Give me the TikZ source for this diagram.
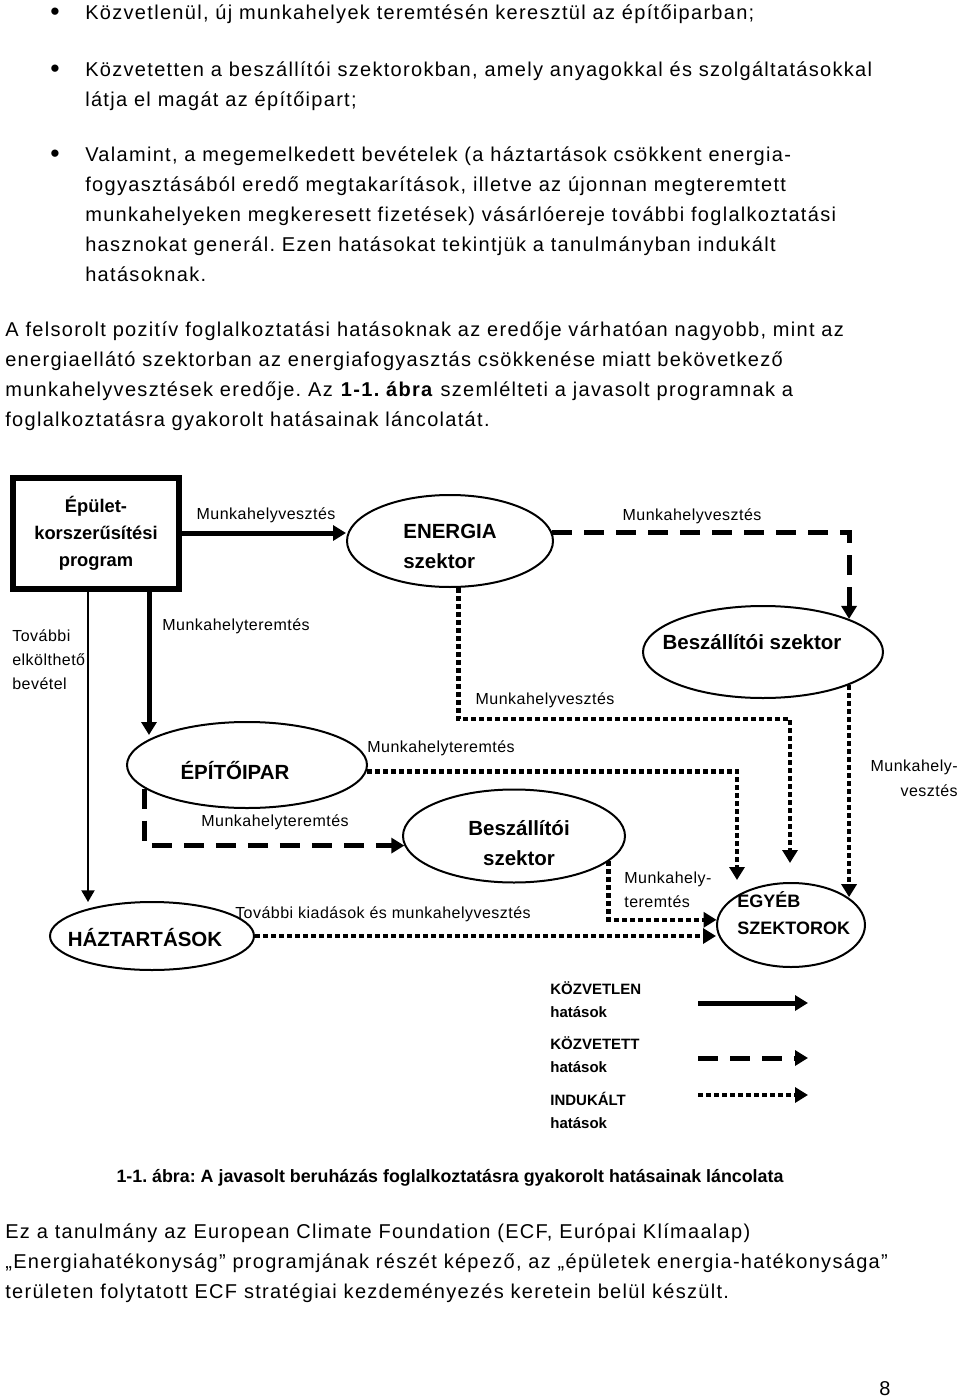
\documentclass[tikz,border=0pt]{standalone}
\usepackage{fontspec}
\setmainfont{Liberation Sans}
\newfontfamily\bodyfont[LetterSpace=6.5]{Liberation Sans}
\newfontfamily\labelfont[LetterSpace=3]{Liberation Sans}
\usetikzlibrary{arrows.meta, positioning, shapes.geometric}
\frenchspacing

\begin{document}
\begin{tikzpicture}[
    x=0.6pt, y=-0.6pt,
    direct/.style={
        line width=3pt,
        -{Triangle[length=7.8pt, width=9pt]},
    },
    indirect/.style={
        line width=3pt,
        dash pattern=on 12pt off 7.2pt,
        -{Triangle[length=7.8pt, width=9pt]},
    },
    induced/.style={
        line width=2.7pt,
        dash pattern=on 3pt off 1.8pt,
        -{Triangle[length=7.8pt, width=9pt]},
    },
    thinflow/.style={
        line width=1.2pt,
        -{Triangle[length=7pt, width=7.8pt]},
    },
    progbox/.style={
        rectangle,
        draw,
        line width=3.6pt,
        minimum width=99.6pt,
        minimum height=66.6pt,
        inner sep=0pt,
        align=center,
        font=\bfseries\fontsize{11}{16.2}\selectfont,
    },
    sectorshape/.style={
        ellipse,
        draw,
        line width=1.2pt,
        inner sep=0pt,
    },
    sectorname/.style={
        inner sep=0pt,
        align=center,
        font=\bfseries\fontsize{12.3}{18}\selectfont,
    },
    flowlabel/.style={
        inner sep=0pt,
        align=left,
        font=\labelfont\fontsize{9.6}{14.4}\selectfont,
    },
    keytext/.style={
        inner sep=0pt,
        align=left,
        anchor=west,
        font=\bfseries\fontsize{9}{13.8}\selectfont,
    },
    bodytext/.style={
        inner sep=0pt,
        align=left,
        anchor=north west,
        font=\bodyfont\fontsize{12}{18}\selectfont,
    },
    dotmark/.style={
        inner sep=0pt,
        font=\fontsize{16}{16}\selectfont,
    }
]
    \path[fill=white] (0,0) rectangle (960,1399);

    % Text above the figure
    \node[dotmark] (dot1) at (55,14) {\textbullet};
    \node[bodytext] (item1) at (85,4) {Közvetlenül, új munkahelyek teremtésén keresztül az építőiparban;};
    \node[dotmark] (dot2) at (55,71) {\textbullet};
    \node[bodytext] (item2) at (85,61) {Közvetetten a beszállítói szektorokban, amely anyagokkal és szolgáltatásokkal\\látja el magát az építőipart;};
    \node[dotmark] (dot3) at (55,156) {\textbullet};
    \node[bodytext] (item3) at (85,146) {Valamint, a megemelkedett bevételek (a háztartások csökkent energia-\\fogyasztásából eredő megtakarítások, illetve az újonnan megteremtett\\munkahelyeken megkeresett fizetések) vásárlóereje további foglalkoztatási\\hasznokat generál. Ezen hatásokat tekintjük a tanulmányban indukált\\hatásoknak.};
    \node[bodytext] (intro) at (5,321) {A felsorolt pozitív foglalkoztatási hatásoknak az eredője várhatóan nagyobb, mint az\\energiaellátó szektorban az energiafogyasztás csökkenése miatt bekövetkező\\munkahelyvesztések eredője. Az \textbf{1-1. ábra} szemlélteti a javasolt programnak a\\foglalkoztatásra gyakorolt hatásainak láncolatát.};

    % Sectors
    \node[progbox] (program) at (96,533) {Épület-\\korszerűsítési\\program};
    \node[sectorshape, minimum width=123.6pt, minimum height=55.2pt] (energia) at (450,541) {};
    \node[sectorname, anchor=west, align=left] (energia-t) at (403,546) {ENERGIA\\szektor};
    \node[sectorshape, minimum width=144pt, minimum height=55.2pt] (beszall1) at (763,652) {};
    \node[sectorname] (beszall1-t) at (752,642) {Beszállítói szektor};
    \node[sectorshape, minimum width=144pt, minimum height=51.6pt] (epitoipar) at (247,765) {};
    \node[sectorname] (epitoipar-t) at (235,771) {ÉPÍTŐIPAR};
    \node[sectorshape, minimum width=133.2pt, minimum height=55.8pt] (beszall2) at (514,836) {};
    \node[sectorname] (beszall2-t) at (519,843) {Beszállítói\\szektor};
    \node[sectorshape, minimum width=122.4pt, minimum height=40.8pt] (haztartas) at (152,936) {};
    \node[sectorname] (haztartas-t) at (145,938) {HÁZTARTÁSOK};
    \node[sectorshape, minimum width=88.8pt, minimum height=50.4pt] (egyeb) at (791,925) {};
    \node[sectorname, anchor=west, align=left, font=\bfseries\fontsize{10.8}{16.2}\selectfont] (egyeb-t) at (737,913) {EGYÉB\\SZEKTOROK};

    % Free arrow ends
    \coordinate (tipE) at (149,735);
    \coordinate (tipH) at (88,902);
    \coordinate (tipB) at (737,880);
    \coordinate (tipC) at (790,863);

    % Effects
    \draw[direct] (program.east) -- (program.east -| energia.west);
    \draw[direct] (program.south -| tipE) -- (tipE);
    \draw[thinflow] (program.south -| tipH) -- (tipH);
    \draw[indirect] (energia.5) -| (beszall1.21);
    \draw[indirect] (epitoipar.193) |- (beszall2.185);
    \draw[induced] (energia.-80) -- ++(0,131) -| (tipC);
    \draw[induced] (beszall1.-21) -- (beszall1.-21 |- egyeb.26);
    \draw[induced] (epitoipar.-3) -| (tipB);
    \draw[induced] (beszall2.-15) |- (egyeb.176);
    \draw[induced] (haztartas.east) -- (haztartas.east -| egyeb.west);

    % Effect labels
    \node[flowlabel] (vesz1) at (266,515) {Munkahelyvesztés};
    \node[flowlabel] (vesz2) at (692,516) {Munkahelyvesztés};
    \node[flowlabel] (vesz3) at (545,700) {Munkahelyvesztés};
    \node[flowlabel, anchor=east, align=right, font=\labelfont\fontsize{9.6}{15}\selectfont] (vesz4) at (958,778) {Munkahely-\\vesztés};
    \node[flowlabel] (ter1) at (236,626) {Munkahelyteremtés};
    \node[flowlabel] (ter2) at (441,748) {Munkahelyteremtés};
    \node[flowlabel] (ter3) at (275,822) {Munkahelyteremtés};
    \node[flowlabel, anchor=west] (ter4) at (624,890) {Munkahely-\\teremtés};
    \node[flowlabel] (kiad) at (383,914) {További kiadások és munkahelyvesztés};
    \node[flowlabel, anchor=west] (bevetel) at (12,660) {További\\elkölthető\\bevétel};

    % Key
    \node[keytext] (key1) at (550,1000) {KÖZVETLEN\\hatások};
    \node[keytext] (key2) at (550,1055) {KÖZVETETT\\hatások};
    \node[keytext] (key3) at (550,1110) {INDUKÁLT\\hatások};
    \coordinate (key1a) at (698,1003);
    \coordinate (key1b) at (808,1003);
    \coordinate (key2a) at (698,1058);
    \coordinate (key2b) at (808,1058);
    \coordinate (key3a) at (698,1095);
    \coordinate (key3b) at (808,1095);
    \draw[direct] (key1a) -- (key1b);
    \draw[indirect] (key2a) -- (key2b);
    \draw[induced] (key3a) -- (key3b);

    % Caption and closing text
    \node[inner sep=0pt, font=\bfseries\fontsize{10.7}{12}\selectfont] (caption) at (450,1178) {1-1. ábra: A javasolt beruházás foglalkoztatásra gyakorolt hatásainak láncolata};
    \node[bodytext] (closing) at (5,1223) {Ez a tanulmány az European Climate Foundation (ECF, Európai Klímaalap)\\„Energiahatékonyság” programjának részét képező, az „épületek energia-hatékonysága”\\területen folytatott ECF stratégiai kezdeményezés keretein belül készült.};
    \node[bodytext, anchor=center] (pagenum) at (885,1389) {8};
\end{tikzpicture}
\end{document}
